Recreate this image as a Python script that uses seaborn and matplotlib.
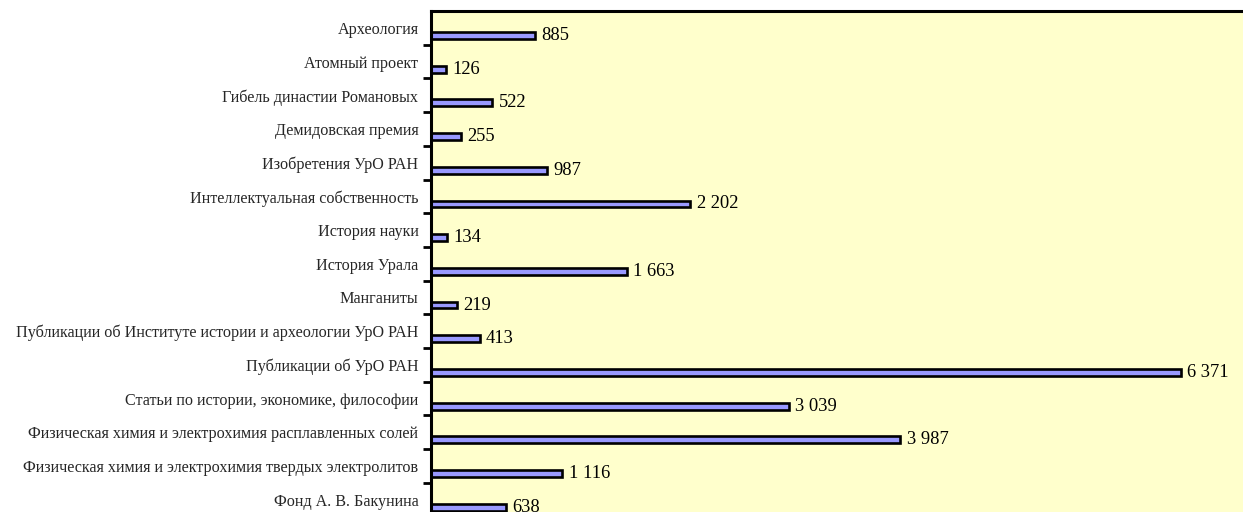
import matplotlib
matplotlib.use("Agg")
import matplotlib.pyplot as plt
from matplotlib.ticker import FixedLocator
import seaborn as sns
import pandas as pd
import numpy as np

categories = [
    "Археология",
    "Атомный проект",
    "Гибель династии Романовых",
    "Демидовская премия",
    "Изобретения УрО РАН",
    "Интеллектуальная собственность",
    "История науки",
    "История Урала",
    "Манганиты",
    "Публикации об Институте истории и археологии УрО РАН",
    "Публикации об УрО РАН",
    "Статьи по истории, экономике, философии",
    "Физическая химия и электрохимия расплавленных солей",
    "Физическая химия и электрохимия твердых электролитов",
    "Фонд А. В. Бакунина",
]
values = [885, 126, 522, 255, 987, 2202, 134, 1663, 219, 413, 6371, 3039, 3987, 1116, 638]

df = pd.DataFrame({"category": categories, "value": values})

sns.set_style("white")
plt.rcParams["font.family"] = ["Liberation Serif", "DejaVu Serif"]

W, H = 1243, 512
fig = plt.figure(figsize=(W / 100, H / 100), dpi=100)

# axes frame in pixel terms: left spine at x=431, top spine at y=11,
# category bands ~33.7 px tall (the last band runs past the figure edge)
band = 33.7
n = len(categories)
left_px, top_px = 431, 11
bottom_px = top_px + band * n
ax = fig.add_axes([left_px / W, 1 - bottom_px / H, (W - left_px) / W, (bottom_px - top_px) / H])
ax.set_facecolor("#FFFFCC")

sns.barplot(data=df, x="value", y="category", orient="h", ax=ax,
            color="#9999FF", edgecolor="black", linewidth=1.9,
            width=0.2, saturation=1)

# bars sit in the lower part of each category band
shift = 0.225
for p in ax.patches:
    p.set_y(p.get_y() + shift)

ax.set_xlim(0, (W - left_px) / 0.11772)
ax.set_ylim(n - 0.5, -0.5)

for i, v in enumerate(values):
    ax.text(v + 55, i + shift, f"{v:,}".replace(",", " "),
            va="center", ha="left", fontsize=13.3, color="black")

ax.set_xlabel("")
ax.set_ylabel("")
ax.set_xticks([])
ax.tick_params(axis="y", which="major", left=False, length=0, pad=9, labelsize=11.6)
ax.yaxis.set_minor_locator(FixedLocator(np.arange(0.5, n, 1.0)))
ax.tick_params(axis="y", which="minor", left=True, length=6, width=2, color="black", direction="out")

for side in ["right", "bottom"]:
    ax.spines[side].set_visible(False)
for side in ["left", "top"]:
    ax.spines[side].set_visible(True)
    ax.spines[side].set_linewidth(2.2)
    ax.spines[side].set_color("black")

fig.savefig("out.png", dpi=100, facecolor="white")
